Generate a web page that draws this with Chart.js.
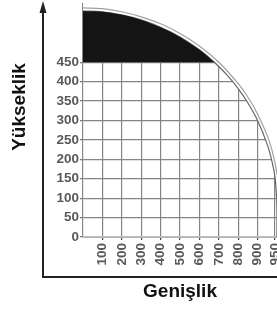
<!DOCTYPE html>
<html lang="tr">
<head>
<meta charset="utf-8">
<title>Yükseklik / Genişlik</title>
<script src="https://cdn.jsdelivr.net/npm/chart.js@4.4.1/dist/chart.umd.min.js"></script>
<style>
  html, body { margin: 0; padding: 0; background: #fff; }
  canvas { display: block; }
</style>
</head>
<body>
<canvas id="grafik" width="277" height="312"></canvas>
<script>
// Eksen değerleri
const xTickValues = [100, 200, 300, 400, 500, 600, 700, 800, 900, 990];
const xTickLabels = ['100', '200', '300', '400', '500', '600', '700', '800', '900', '950'];
const yTickValues = [0, 50, 100, 150, 200, 250, 300, 350, 400, 450];

// İç eğri (siyah alanın üstü ve ızgaranın sınırı)
const icX = [0, 100, 200, 300, 400, 500, 600, 677, 750, 800, 850, 900, 950, 975, 990, 998, 1000, 1000];
const icY = [582, 580, 572, 559, 540, 515, 482, 450, 413, 382, 345, 300, 238, 193, 153, 100, 60, 0];

// Dış çizgi
const disX = [0, 100, 200, 300, 400, 500, 600, 700, 800, 850, 900, 950, 975, 990, 1000];
const disY = [590, 588, 580, 567, 549, 524, 492, 450, 395, 360, 317, 261, 222, 190, 160];

// Siyah alanın alt sınırı
const siyahSinir = 450;

const FONT = '"Liberation Sans", Arial, sans-serif';

const icNoktalar = icX.map((x, i) => ({ x: x, y: icY[i] }));
const disNoktalar = disX.map((x, i) => ({ x: x, y: disY[i] }));
const siyahNoktalar = icNoktalar.filter(p => p.y >= siyahSinir);

// Eksen okları ve dikey başlık
const eksenOklari = {
  id: 'eksenOklari',
  afterDraw(chart) {
    const ctx = chart.ctx;
    ctx.save();
    ctx.strokeStyle = '#222';
    ctx.fillStyle = '#222';
    ctx.lineWidth = 2;
    ctx.beginPath();
    ctx.moveTo(43, 10);
    ctx.lineTo(43, 277);
    ctx.lineTo(277, 277);
    ctx.stroke();
    ctx.beginPath();
    ctx.moveTo(43, 1);
    ctx.lineTo(39.5, 13);
    ctx.lineTo(46.5, 13);
    ctx.closePath();
    ctx.fill();

    ctx.translate(20, 107);
    ctx.rotate(-Math.PI / 2);
    ctx.font = 'bold 19px ' + FONT;
    ctx.fillStyle = '#111';
    ctx.textAlign = 'center';
    ctx.textBaseline = 'middle';
    ctx.fillText('Yükseklik', 0, 0);
    ctx.restore();
  }
};

new Chart(document.getElementById('grafik'), {
  type: 'line',
  data: {
    datasets: [
      {
        data: icNoktalar,
        borderColor: '#666',
        borderWidth: 1.2,
        backgroundColor: '#fff',
        fill: 'end',
        tension: 0.3,
        pointRadius: 0,
        order: 3
      },
      {
        data: siyahNoktalar,
        borderColor: '#111',
        borderWidth: 0,
        backgroundColor: '#141414',
        fill: { value: siyahSinir },
        tension: 0.3,
        pointRadius: 0,
        order: 2
      },
      {
        data: disNoktalar,
        borderColor: '#a0a0a0',
        borderWidth: 1.2,
        fill: false,
        tension: 0.3,
        pointRadius: 0,
        order: 1
      }
    ]
  },
  options: {
    responsive: false,
    animation: false,
    layout: { padding: { top: 4, right: 0, bottom: 0, left: 0 } },
    plugins: {
      legend: { display: false },
      tooltip: { enabled: false }
    },
    scales: {
      x: {
        type: 'linear',
        min: 0,
        max: 1000,
        afterBuildTicks: s => { s.ticks = xTickValues.map(v => ({ value: v })); },
        afterFit: s => {
          s.height = 75;
          s.paddingLeft = 0;
          s.paddingRight = 0;
        },
        grid: { color: '#858585', lineWidth: 1.2, tickLength: 3, tickColor: '#444' },
        border: { display: true, color: '#b5b5b5', width: 1 },
        ticks: {
          autoSkip: false,
          minRotation: 90,
          maxRotation: 90,
          padding: 3,
          color: '#595959',
          font: { family: FONT, size: 13.5, weight: 'bold' },
          callback: (v, i) => xTickLabels[i]
        },
        title: {
          display: true,
          text: 'Genişlik',
          color: '#111',
          font: { family: FONT, size: 19, weight: 'bold' },
          padding: { top: 0, bottom: 9 }
        }
      },
      y: {
        min: 0,
        max: 600,
        afterBuildTicks: s => { s.ticks = yTickValues.map(v => ({ value: v })); },
        afterFit: s => {
          s.width = 83;
          s.paddingTop = 0;
          s.paddingBottom = 0;
        },
        grid: {
          color: c => (c.tick && c.tick.value === 0 ? '#bdbdbd' : '#858585'),
          lineWidth: 1.2,
          tickLength: 3,
          tickColor: '#777'
        },
        border: { display: true, color: '#858585', width: 1.2 },
        ticks: {
          padding: 1,
          color: '#595959',
          font: { family: FONT, size: 13.5, weight: 'bold' },
          callback: v => String(v)
        }
      }
    }
  },
  plugins: [eksenOklari]
});
</script>
</body>
</html>
